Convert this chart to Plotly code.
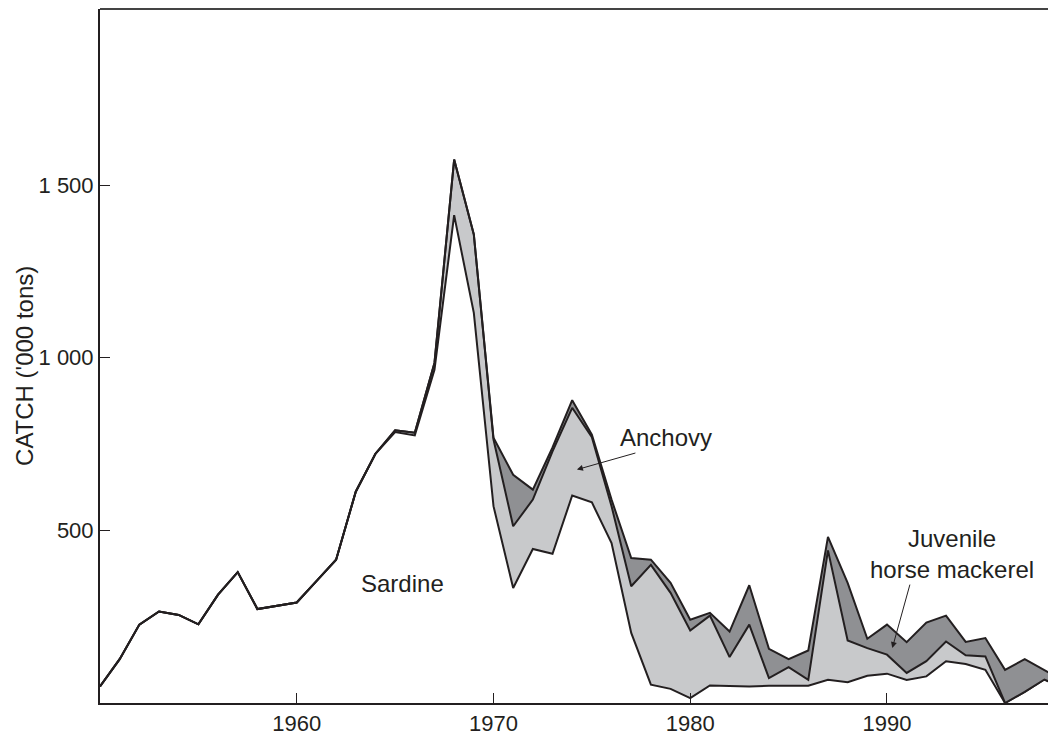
import plotly.graph_objects as go

years = list(range(1950, 2000))

sardine = [48, 127, 227, 265, 255, 228, 314, 379, 272, 281,
           291, 353, 415, 612, 722, 785, 775, 965, 1413, 1130,
           570, 333, 446, 432, 601, 581, 463, 203, 53, 41,
           14, 51, 50, 48, 50, 50, 50, 67, 60, 79,
           85, 67, 77, 121, 113, 96, 0, 32, 68, 42]

anchovy = [0, 0, 0, 0, 0, 0, 0, 0, 0, 0,
           0, 0, 0, 0, 0, 5, 8, 20, 161, 227,
           193, 179, 143, 297, 254, 189, 107, 135, 347, 278,
           196, 202, 83, 179, 22, 54, 17, 375, 121, 80,
           55, 20, 44, 57, 25, 39, 0, 0, 0, 0]

mackerel = [0, 0, 0, 0, 0, 0, 0, 0, 0, 0,
            0, 0, 0, 0, 0, 0, 0, 0, 0, 0,
            5, 149, 29, 11, 22, 7, 19, 82, 15, 29,
            31, 8, 74, 114, 85, 23, 85, 39, 167, 27,
            87, 89, 112, 75, 39, 53, 96, 95, 28, 21]

ytick_vals = [500, 1000, 1500]
ytick_text = ['500', '1 000', '1 500']
xtick_vals = [1960, 1970, 1980, 1990]

ink = '#231f20'
font = 'Liberation Sans, Arial, sans-serif'

fig = go.Figure()
series = [('Sardine', sardine, '#ffffff'),
          ('Anchovy', anchovy, '#c8c9cb'),
          ('Juvenile horse mackerel', mackerel, '#8f9093')]
for name, vals, col in series:
    fig.add_trace(go.Scatter(x=years, y=vals, name=name, stackgroup='catch',
                             mode='lines', fillcolor=col,
                             line=dict(color=ink, width=2)))

# labels
fig.add_annotation(x=1965.35, y=346, text='Sardine', showarrow=False)
fig.add_annotation(x=1978.77, y=769, text='Anchovy', showarrow=False)
fig.add_annotation(x=1993.3, y=432, text='Juvenile<br>horse mackerel', showarrow=False)
# arrows
fig.add_annotation(x=1974.24, y=676, text='', showarrow=True, ax=60, ay=-17,
                   arrowhead=2, arrowsize=1.2, arrowwidth=1, arrowcolor=ink)
fig.add_annotation(x=1990.27, y=159, text='', showarrow=True, ax=18, ay=-65,
                   arrowhead=2, arrowsize=1.2, arrowwidth=1, arrowcolor=ink)
# y title
fig.add_annotation(xref='paper', yref='paper', x=-0.0785, y=0.4856,
                   xanchor='center', yanchor='middle',
                   text="CATCH ('000 tons)", textangle=-90, showarrow=False,
                   font=dict(size=24))

fig.add_shape(type='line', xref='paper', yref='paper', x0=0, x1=1, y0=1, y1=1,
              line=dict(color='#444', width=2))

# page body adds 8px margin, so the figure is 8px smaller than the window
fig.update_layout(
    width=1048, height=727,
    margin=dict(l=92, r=0, t=1, b=32),
    plot_bgcolor='white', paper_bgcolor='white',
    showlegend=False,
    font=dict(family=font, size=24, color=ink),
    xaxis=dict(range=[1950, 1998.59], tickvals=xtick_vals, ticks='inside',
               ticklen=10, tickwidth=1, tickcolor=ink, showline=True,
               linecolor=ink, linewidth=2, showgrid=False, zeroline=False,
               tickfont=dict(size=22)),
    yaxis=dict(range=[0, 2010], tickvals=ytick_vals, ticktext=ytick_text,
               ticks='inside', ticklen=10, tickwidth=1, tickcolor=ink,
               showline=True, linecolor=ink, linewidth=2, showgrid=False,
               zeroline=False, tickfont=dict(size=22)),
)

fig.write_html('out.html')
